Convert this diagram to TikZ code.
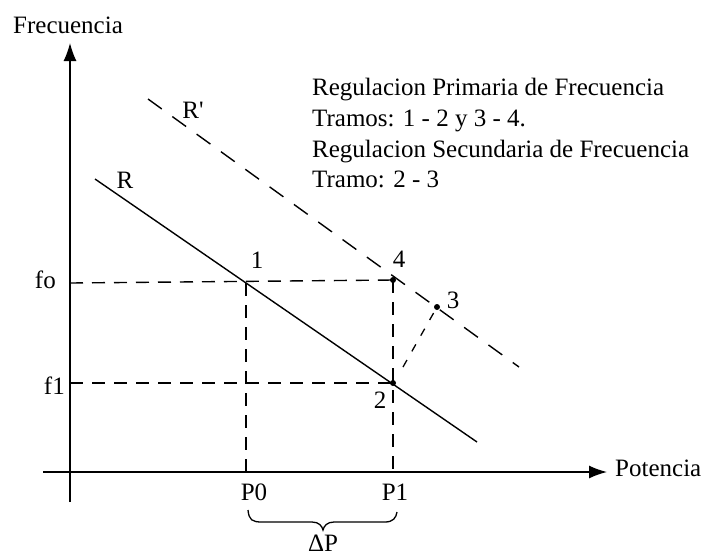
\documentclass[tikz,border=0pt]{standalone}
\usepackage{fontspec}
\setmainfont{Liberation Serif}
\usetikzlibrary{arrows.meta}
\begin{document}
\begin{tikzpicture}[x=1pt,y=-1pt,
  lbl/.style={inner sep=0pt,font=\fontsize{25}{30}\selectfont},
  axis/.style={line width=1.4pt,-{Latex[length=18pt,width=13pt]}},
  curve/.style={line width=1.4pt},
  guide/.style={line width=1.4pt,dash pattern=on 13pt off 9pt},
  rprime/.style={line width=1.4pt,dash pattern=on 17pt off 13pt},
  secline/.style={line width=1.3pt,dash pattern=on 8pt off 10pt},
  dot/.style={circle,fill=black,inner sep=0pt,minimum size=6pt}]
\useasboundingbox (0,0) rectangle (704,558);
% coordinates
\coordinate (o) at (70,472);
\coordinate (ybot) at (70,502);
\coordinate (ytop) at (70,43);
\coordinate (xl) at (43,472);
\coordinate (xr) at (607,472);
\coordinate (fo) at (70,283);
\coordinate (f1) at (70,383);
\coordinate (p0) at (246,472);
\coordinate (p1) at (393,472);
\coordinate (rs) at (95,179);
\coordinate (re) at (477,442);
\coordinate (rps) at (148,99);
\coordinate (rpe) at (519,367);
\coordinate (pt1) at (246,283);
\node[dot] (pt4) at (393,280) {};
\node[dot] (pt3) at (437,307) {};
\node[dot] (pt2) at (393,383) {};
\coordinate (s23) at (403,367);
% axes
\draw[line width=1.4pt] (ybot) -- (o);
\draw[axis] (o) -- (ytop);
\draw[axis] (xl) -- (xr);
% lines
\draw[curve] (rs) -- (re);
\draw[rprime] (rps) -- (rpe);
\draw[guide] (fo) -- (pt4.center);
\draw[guide] (f1) -- (pt2.center);
\draw[guide] (pt1) -- (p0);
\draw[guide] (pt4.center) -- (p1);
\draw[secline] (s23) -- (pt3.center);
% brace
\coordinate (bl) at (248,510);
\coordinate (bm) at (323,530);
\coordinate (br) at (397,512);
\draw[line width=1.3pt] (bl) .. controls (249,520) and (252,522) .. (262,522)
  -- (312,522) .. controls (319,522) and (322,526) .. (bm)
  .. controls (324,526) and (327,522) .. (334,522)
  -- (385,522) .. controls (393,522) and (396,518) .. (br);
% labels
\node[lbl,anchor=base west] (ylab) at (13,33) {Frecuencia};
\node[lbl,anchor=base west] (xlab) at (615,476) {Potencia};
\node[lbl,anchor=base east] (lfo) at (56,288) {fo};
\node[lbl,anchor=base east] (lf1) at (65,394) {f1};
\node[lbl,anchor=base] (lp0) at (254,500) {P0};
\node[lbl,anchor=base] (lp1) at (395,500) {P1};
\node[lbl,anchor=base] (l1) at (257,268) {1};
\node[lbl,anchor=base] (l4) at (399,267) {4};
\node[lbl,anchor=base] (l3) at (453,308) {3};
\node[lbl,anchor=base] (l2) at (380,408) {2};
\node[lbl,anchor=base] (lr) at (125,188) {R};
\node[lbl,anchor=base] (lrp) at (193,118) {R\textquotesingle};
\node[lbl,anchor=base] (ldp) at (323,551) {ΔP};
\node[lbl,anchor=base west] (t1) at (312,95) {Regulacion Primaria de Frecuencia};
\node[lbl,anchor=base west] (t2) at (312,126) {Tramos: 1 - 2 y 3 - 4.};
\node[lbl,anchor=base west] (t3) at (312,157) {Regulacion Secundaria de Frecuencia};
\node[lbl,anchor=base west] (t4) at (312,187) {Tramo: 2 - 3};
\end{tikzpicture}
\end{document}
